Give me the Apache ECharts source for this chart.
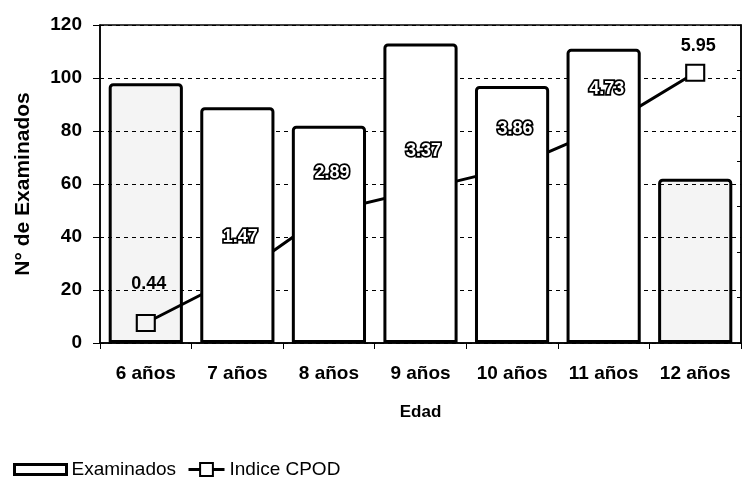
<!DOCTYPE html>
<html>
<head>
<meta charset="utf-8">
<script src="https://cdn.jsdelivr.net/npm/echarts@6/dist/echarts.min.js"></script>
<style>
  html, body { margin: 0; padding: 0; background: #fff; }
  #chart { width: 744px; height: 481px; }
</style>
</head>
<body>
<div id="chart"></div>
<script>
// datos del gráfico
const edades = ['6 años', '7 años', '8 años', '9 años', '10 años', '11 años', '12 años'];
const examinados = [98, 89, 82, 113, 97, 111, 62];
const indiceCPOD = [0.44, 1.47, 2.89, 3.37, 3.86, 4.73, 5.95];
const ticksIzq = [0, 20, 40, 60, 80, 100, 120];

const FONT = '"Liberation Sans", Arial, sans-serif';

const chart = echarts.init(document.getElementById('chart'));

// barras 1 y 7 con relleno punteado (translúcido), el resto blanco
const barData = examinados.map((v, i) => {
  const punteada = i === 0 || i === examinados.length - 1;
  return punteada ? { value: v, itemStyle: { color: 'rgba(0,0,0,0.045)' } } : v;
});

// etiquetas del índice: las del medio en blanco con contorno negro
const labelData = indiceCPOD.map((v, i) => {
  const extremo = i === 0 || i === indiceCPOD.length - 1;
  const item = { value: v };
  if (extremo) {
    item.label = { color: '#000', textBorderWidth: 0 };
  }
  if (i === indiceCPOD.length - 1) {
    item.label.distance = 10;
  }
  return item;
});

const option = {
  animation: false,
  textStyle: { fontFamily: FONT },
  grid: {
    left: 100, right: 3, top: 25, bottom: 138,
    show: true, borderColor: '#000', borderWidth: 1.5,
    outerBoundsMode: 'none'
  },
  legend: [
    {
      data: [{ name: 'Examinados', icon: 'rect', itemStyle: { borderWidth: 3 } }],
      left: 8, top: 455,
      itemWidth: 52, itemHeight: 10, itemGap: 8,
      textStyle: { fontSize: 19, color: '#000', fontFamily: FONT }
    },
    {
      data: [{ name: 'Indice CPOD', lineStyle: { width: 3 } }],
      left: 182, top: 455,
      itemWidth: 36, itemHeight: 16,
      textStyle: { fontSize: 19, color: '#000', fontFamily: FONT }
    }
  ],
  xAxis: {
    type: 'category',
    data: edades,
    name: 'Edad',
    nameLocation: 'middle',
    nameGap: 61,
    nameTextStyle: { fontSize: 17, fontWeight: 'bold', color: '#000' },
    axisLine: { lineStyle: { color: '#000', width: 1.5 } },
    axisTick: { show: true, length: 6, lineStyle: { color: '#000' } },
    axisLabel: { interval: 0, fontSize: 19, fontWeight: 'bold', color: '#000', margin: 21 }
  },
  yAxis: [
    {
      type: 'value',
      min: ticksIzq[0],
      max: ticksIzq[ticksIzq.length - 1],
      interval: 20,
      name: 'N° de Examinados',
      nameLocation: 'middle',
      nameGap: 66,
      nameTextStyle: { fontSize: 21, fontWeight: 'bold', color: '#000' },
      axisLine: { show: true, lineStyle: { color: '#000', width: 1.5 } },
      axisTick: { show: true, length: 7, lineStyle: { color: '#000' } },
      axisLabel: { fontSize: 19, fontWeight: 'bold', color: '#000', margin: 18 },
      splitLine: { show: true, lineStyle: { color: '#000', type: [4, 4], width: 1 } }
    },
    {
      type: 'value',
      min: 0, max: 7, interval: 1,
      position: 'right',
      axisLine: { show: true, lineStyle: { color: '#000', width: 1.5 } },
      axisTick: { show: true, inside: true, length: 4, lineStyle: { color: '#000' } },
      axisLabel: { show: false },
      splitLine: { show: false }
    }
  ],
  series: [
    {
      name: 'Indice CPOD',
      type: 'line',
      yAxisIndex: 1,
      z: 1,
      data: indiceCPOD,
      symbol: 'rect',
      symbolSize: [18, 16],
      lineStyle: { color: '#000', width: 3 },
      itemStyle: { color: '#fff', borderColor: '#000', borderWidth: 2 }
    },
    {
      name: 'Examinados',
      type: 'bar',
      z: 2,
      data: barData,
      barCategoryGap: '19%',
      itemStyle: {
        color: '#fff',
        borderColor: '#000',
        borderWidth: 3,
        borderRadius: [3, 3, 0, 0]
      }
    },
    {
      // solo las etiquetas, por encima de las barras
      name: 'etiquetas CPOD',
      type: 'scatter',
      yAxisIndex: 1,
      z: 5,
      data: labelData,
      symbol: 'rect',
      symbolSize: [18, 16],
      itemStyle: { color: 'rgba(0,0,0,0)', borderWidth: 0, opacity: 1 },
      silent: true,
      label: {
        show: true,
        position: 'top',
        distance: 22,
        offset: [3, 0],
        fontSize: 18,
        fontWeight: 'bold',
        color: '#fff',
        textBorderColor: '#000',
        textBorderWidth: 3.5
      }
    }
  ]
};

chart.setOption(option);
</script>
</body>
</html>
